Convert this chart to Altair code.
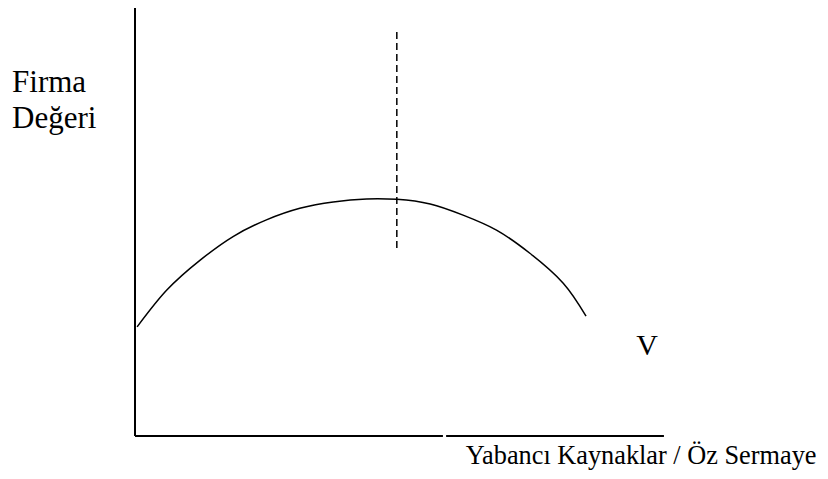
import altair as alt
import pandas as pd

# Curve V (firm value vs. debt/equity)
curve_x = [0.04, 0.60, 1.23, 1.85, 2.48, 3.11, 3.74, 4.37, 4.94, 5.57, 6.19, 6.82, 7.45, 8.08, 8.51]
curve_y = [2.55, 3.41, 4.11, 4.66, 5.05, 5.32, 5.47, 5.54, 5.53, 5.42, 5.16, 4.81, 4.27, 3.57, 2.80]

# Dashed optimum line
opt_x = [4.94]
opt_y1 = [4.39]
opt_y2 = [9.44]

# Axis line segments (x, x2, y, y2)
axis_x1 = [0.0, 5.87, 0.0]
axis_x2 = [5.81, 9.98, 0.0]
axis_y1 = [0.0, 0.0, 0.0]
axis_y2 = [0.0, 0.0, 10.0]

# Labels
left_text = ["Firma", "Değeri"]
left_x = [-2.32, -2.32]
left_y = [8.04, 7.20]
v_text = ["V"]
v_x = [9.66]
v_y = [1.89]
xlab_text = ["Yabancı Kaynaklar / Öz Sermaye"]
xlab_x = [6.24]
xlab_y = [-0.65]

curve_df = pd.DataFrame({"x": curve_x, "y": curve_y})
opt_df = pd.DataFrame({"x": opt_x, "y": opt_y1, "y2": opt_y2})
axis_df = pd.DataFrame({"x": axis_x1, "x2": axis_x2, "y": axis_y1, "y2": axis_y2})
left_df = pd.DataFrame({"t": left_text, "x": left_x, "y": left_y})
v_df = pd.DataFrame({"t": v_text, "x": v_x, "y": v_y})
xlab_df = pd.DataFrame({"t": xlab_text, "x": xlab_x, "y": xlab_y})

FONT = "Liberation Serif"

xs = alt.Scale(domain=[0, 10], nice=False, zero=False)
ys = alt.Scale(domain=[0, 10], nice=False, zero=False)
X = alt.X("x:Q", scale=xs, axis=None)
Y = alt.Y("y:Q", scale=ys, axis=None)

axes = alt.Chart(axis_df).mark_rule(color="black", strokeWidth=2).encode(
    x=X, x2="x2:Q", y=Y, y2="y2:Q",
)

curve = alt.Chart(curve_df).mark_line(color="black", strokeWidth=1.5, interpolate="natural").encode(
    x=X, y=Y,
)

opt = alt.Chart(opt_df).mark_rule(color="black", strokeWidth=1.5, strokeDash=[7, 4]).encode(
    x=X, y=Y, y2="y2:Q",
)

left_lab = alt.Chart(left_df).mark_text(
    font=FONT, fontSize=31, color="black", baseline="alphabetic", align="left"
).encode(x=X, y=Y, text="t:N")

v_lab = alt.Chart(v_df).mark_text(
    font=FONT, fontSize=30, color="black", baseline="alphabetic", align="center"
).encode(x=X, y=Y, text="t:N")

x_lab = alt.Chart(xlab_df).mark_text(
    font=FONT, fontSize=26.3, color="black", baseline="alphabetic", align="left"
).encode(x=X, y=Y, text="t:N")

chart = alt.layer(axes, curve, opt, left_lab, v_lab, x_lab).properties(
    width=530,
    height=428,
    autosize=alt.AutoSizeParams(type="none"),
    padding={"left": 127, "top": 0, "right": 155, "bottom": 35},
    background="white",
).configure_view(stroke=None)

chart.save("out.html", embed_options={"renderer": "svg", "actions": False})
